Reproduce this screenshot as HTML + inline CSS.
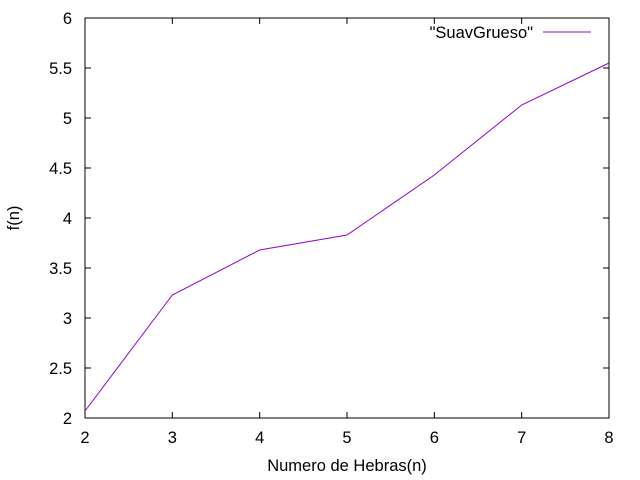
<!DOCTYPE html>
<html><head><meta charset="utf-8"><style>
body{margin:0;background:#fff}
svg{display:block;font-family:"Liberation Sans",sans-serif;font-size:16.5px}
</style></head><body>
<svg id="c" width="640" height="480"></svg>
<script>
const xValues=[2,3,4,5,6,7,8];
const yValues=[2.07,3.23,3.68,3.83,4.43,5.13,5.55];
const xTicks=[2,3,4,5,6,7,8];
const yTicks=["2","2.5","3","3.5","4","4.5","5","5.5","6"];
const L=85,R=609,T=18,B=418;
const sx=v=>L+(v-2)/6*(R-L);
const sy=v=>B-(v-2)/4*(B-T);
const svg=document.getElementById('c');
const NS='http://www.w3.org/2000/svg';
function mk(t,a,txt){const e=document.createElementNS(NS,t);for(const k in a)e.setAttribute(k,a[k]);if(txt!==undefined)e.textContent=txt;svg.appendChild(e);return e;}
let e=mk('rect',{x:L,y:T,width:R-L,height:B-T,fill:'none',stroke:'#000','stroke-width':1});


xTicks.forEach(v=>{const x=sx(v);
 let t=mk('line',{x1:x,y1:B,x2:x,y2:B-6,stroke:'#000'});
 
 
 t=mk('line',{x1:x,y1:T,x2:x,y2:T+6,stroke:'#000'});
 
 
 t=mk('text',{x:x,y:B+25,'text-anchor':'middle'},v);
 
 
});
yTicks.forEach(s=>{const y=sy(parseFloat(s));
 let t=mk('line',{x1:L,y1:y,x2:L+6,y2:y,stroke:'#000'});
 
 
 t=mk('line',{x1:R,y1:y,x2:R-6,y2:y,stroke:'#000'});
 
 
 t=mk('text',{x:L-13,y:y+6,'text-anchor':'end'},s);
 
 
});
e=mk('text',{x:347,y:471,'text-anchor':'middle'},'Numero de Hebras(n)');


e=mk('text',{x:19,y:218,'text-anchor':'middle',transform:'rotate(-90 19 218)'},'f(n)');


e=mk('polyline',{points:xValues.map((v,i)=>sx(v)+','+sy(yValues[i])).join(' '),fill:'none',stroke:'#9400d3','stroke-width':1});


e=mk('text',{x:533,y:38,'text-anchor':'end'},'"SuavGrueso"');


e=mk('line',{x1:543,y1:32,x2:591,y2:32,stroke:'#9400d3'});


</script>
</body></html>
